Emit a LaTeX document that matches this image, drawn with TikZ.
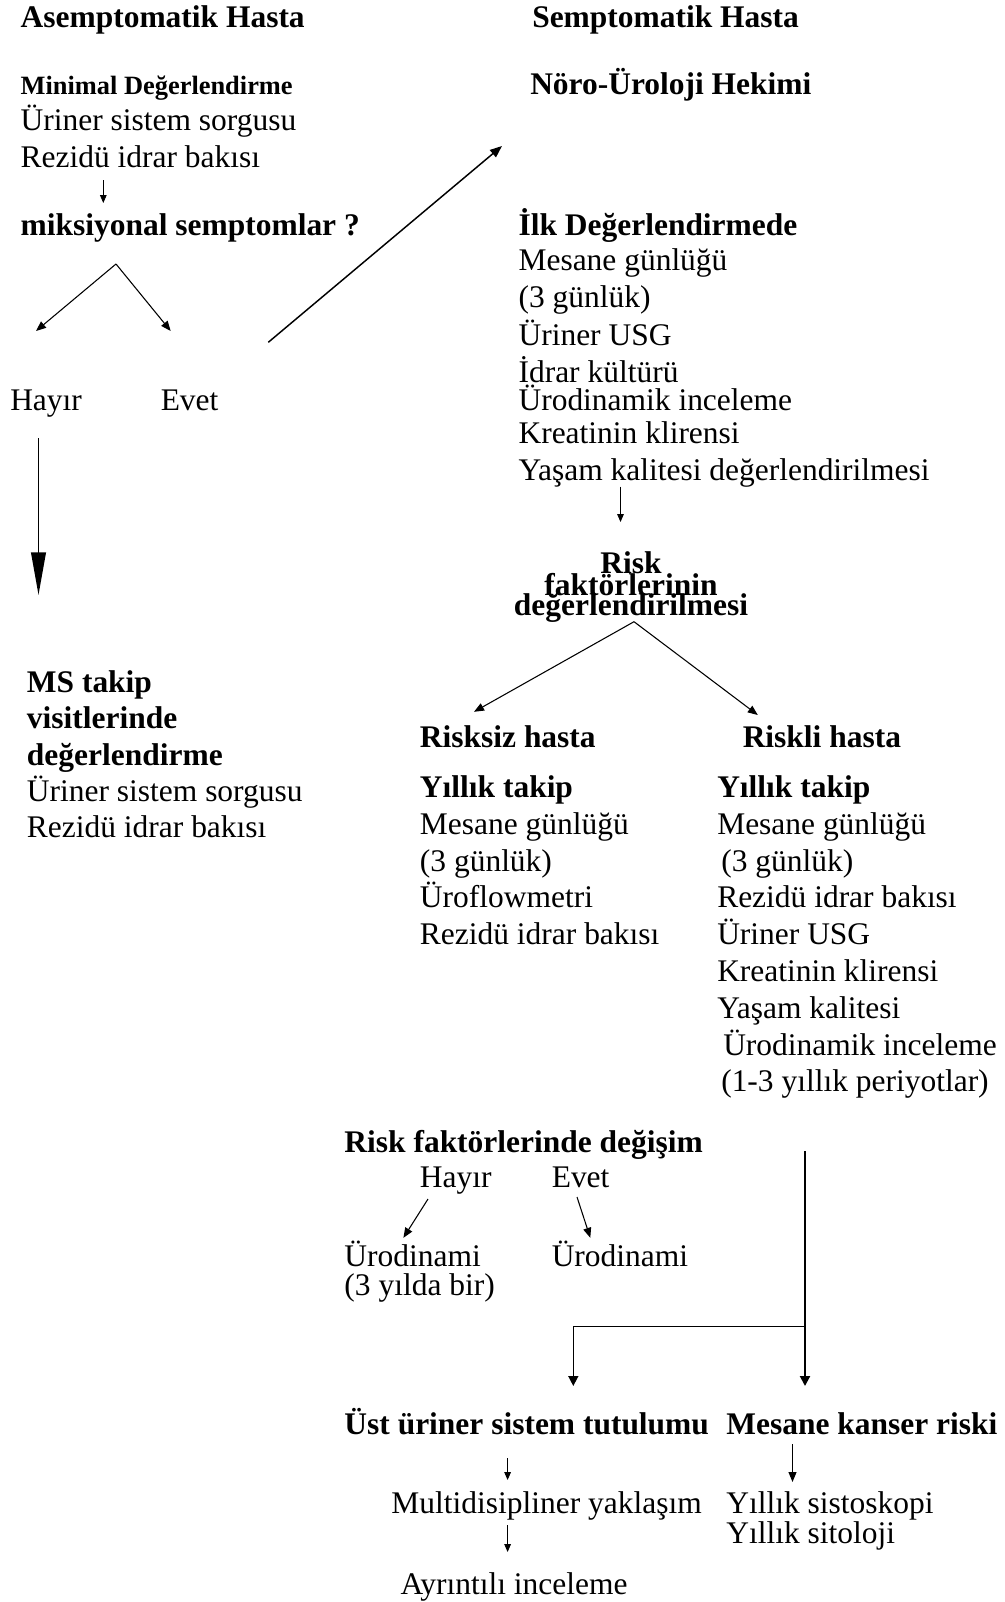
\documentclass[tikz,border=0pt]{standalone}
\usepackage{fontspec}
\setmainfont{Liberation Serif}
\usetikzlibrary{arrows.meta}
\begin{document}
\begin{tikzpicture}[x=0.75pt,y=-0.75pt,
  t/.style={anchor=base west,inner sep=0pt,yshift=-1.5pt,font=\fontsize{23.6}{28}\selectfont},
  b/.style={anchor=base west,inner sep=0pt,yshift=-1.5pt,font=\fontsize{23.6}{28}\selectfont\bfseries},
  bs/.style={anchor=base west,inner sep=0pt,yshift=-1.5pt,font=\fontsize{19.8}{24}\selectfont\bfseries},
  bc/.style={anchor=base,inner sep=0pt,yshift=-1.5pt,font=\fontsize{23.6}{28}\selectfont\bfseries},
  sm/.style={-{Triangle[length=6pt,width=5pt]},line width=0.6pt},
  md/.style={-{Triangle[length=7.5pt,width=6pt]},line width=0.8pt},
  dg/.style={-{Triangle[length=9pt,width=7pt]},line width=1.1pt},
  lg/.style={-{Triangle[length=32pt,width=11pt]},line width=1.4pt},
  jn/.style={-{Triangle[length=7.5pt,width=7.5pt]},line width=1.1pt}]
\useasboundingbox (0,0) rectangle (1005,1602);

% left column
\node[b] (asym) at (20.4,25.7) {Asemptomatik Hasta};
\node[bs] (minimal) at (20.4,92.7) {Minimal Değerlendirme};
\node[t] (a1) at (20.4,128.3) {Üriner sistem sorgusu};
\node[t] (a2) at (20.4,165.7) {Rezidü idrar bakısı};
\node[b] (miks) at (20.4,233.3) {miksiyonal semptomlar ?};
\node[t] (hayir1) at (10,408.3) {Hayır};
\node[t] (evet1) at (160.5,408.3) {Evet};
\node[b] (ms1) at (26.7,690) {MS takip};
\node[b] (ms2) at (26.7,726) {visitlerinde};
\node[b] (ms3) at (26.7,763) {değerlendirme};
\node[t] (ms4) at (26.7,799.3) {Üriner sistem sorgusu};
\node[t] (ms5) at (26.7,835.5) {Rezidü idrar bakısı};

% right column top
\node[b] (sym) at (532,26) {Semptomatik Hasta};
\node[b] (noro) at (530,92) {Nöro-Üroloji Hekimi};
\node[b] (ilk) at (518.3,233.3) {İlk Değerlendirmede};
\node[t] (i1) at (518.3,268.3) {Mesane günlüğü};
\node[t] (i2) at (518.3,305.5) {(3 günlük)};
\node[t] (i3) at (518.3,343.3) {Üriner USG};
\node[t] (i4) at (518.3,380) {İdrar kültürü};
\node[t] (i5) at (518.3,408.3) {Ürodinamik inceleme};
\node[t] (i6) at (518.3,441.7) {Kreatinin klirensi};
\node[t] (i7) at (518.3,478.3) {Yaşam kalitesi değerlendirilmesi};

\node[bc] (r1) at (631,571.7) {Risk};
\node[bc] (r2) at (631,593.5) {faktörlerinin};
\node[bc] (r3) at (631,613) {değerlendirilmesi};

\node[b] (risksiz) at (419.7,745.5) {Risksiz hasta};
\node[b] (riskli) at (742.5,745.5) {Riskli hasta};
\node[b] (y1) at (419.7,795.5) {Yıllık takip};
\node[b] (y2) at (717,795.5) {Yıllık takip};
\node[t] (l1) at (419.7,832) {Mesane günlüğü};
\node[t] (l2) at (419.7,869) {(3 günlük)};
\node[t] (l3) at (419.7,905.7) {Üroflowmetri};
\node[t] (l4) at (419.7,942.5) {Rezidü idrar bakısı};
\node[t] (q1) at (717,832) {Mesane günlüğü};
\node[t] (q2) at (721,869) {(3 günlük)};
\node[t] (q3) at (717,905.7) {Rezidü idrar bakısı};
\node[t] (q4) at (717,942.5) {Üriner USG};
\node[t] (q5) at (717,979) {Kreatinin klirensi};
\node[t] (q6) at (717,1016) {Yaşam kalitesi};
\node[t] (q7) at (723,1053) {Ürodinamik inceleme};
\node[t] (q8) at (721,1089) {(1-3 yıllık periyotlar)};

\node[b] (degisim) at (344.2,1150) {Risk faktörlerinde değişim};
\node[t] (hayir2) at (419.7,1185.5) {Hayır};
\node[t] (evet2) at (551.5,1185.5) {Evet};
\node[t] (uro1) at (344.2,1264) {Ürodinami};
\node[t] (uro1b) at (344.2,1293.8) {(3 yılda bir)};
\node[t] (uro2) at (551.5,1264) {Ürodinami};

\node[b] (ust) at (344.2,1432) {Üst üriner sistem tutulumu};
\node[b] (kanser) at (726.1,1432) {Mesane kanser riski};
\node[t] (multi) at (391.2,1511) {Multidisipliner yaklaşım};
\node[t] (sisto) at (726.1,1511) {Yıllık sistoskopi};
\node[t] (sito) at (726.1,1541) {Yıllık sitoloji};
\node[t] (ayr) at (400.3,1592) {Ayrıntılı inceleme};

% connector end points
\coordinate (c1s) at (103.3,180);
\coordinate (c1e) at (103.3,203);
\coordinate (apx1) at (116,264);
\coordinate (hy) at (36,331);
\coordinate (ev) at (170.7,331);
\coordinate (d1) at (268.3,342.3);
\coordinate (d2) at (502,146);
\coordinate (lg1) at (38.5,438);
\coordinate (lg2) at (38.5,595);
\coordinate (k1) at (620.5,486.7);
\coordinate (k2) at (620.5,522);
\coordinate (apx2) at (634,621.7);
\coordinate (rs) at (474,711.8);
\coordinate (rl) at (757.8,715);
\coordinate (h2s) at (428,1199);
\coordinate (h2e) at (403.4,1237.8);
\coordinate (e2s) at (577,1197);
\coordinate (e2e) at (590.3,1237.8);
\coordinate (v1) at (805,1151);
\coordinate (v2) at (805,1386);
\coordinate (hj) at (805,1326.7);
\coordinate (hk) at (573.3,1326.7);
\coordinate (hl) at (573.3,1386);
\coordinate (b1s) at (507.6,1458.4);
\coordinate (b1e) at (507.6,1480);
\coordinate (b2s) at (792.5,1444);
\coordinate (b2e) at (792.5,1482);
\coordinate (b3s) at (507.6,1525);
\coordinate (b3e) at (507.6,1552);

% connectors
\draw[sm] (c1s) -- (c1e);
\draw[md] (apx1) -- (hy);
\draw[md] (apx1) -- (ev);
\draw[dg] (d1) -- (d2);
\draw[lg] (lg1) -- (lg2);
\draw[sm] (k1) -- (k2);
\draw[md] (apx2) -- (rs);
\draw[md] (apx2) -- (rl);
\draw[md] (h2s) -- (h2e);
\draw[md] (e2s) -- (e2e);
\draw[jn,line width=1.5pt] (v1) -- (v2);
\draw[jn] (hj) -- (hk) -- (hl);
\draw[sm] (b1s) -- (b1e);
\draw[md] (b2s) -- (b2e);
\draw[sm] (b3s) -- (b3e);
\end{tikzpicture}
\end{document}
